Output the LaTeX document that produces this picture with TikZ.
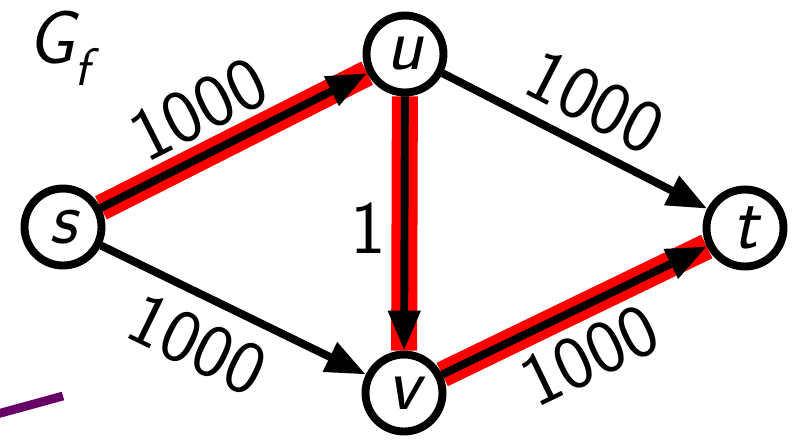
\documentclass[tikz,border=0pt]{standalone}
\usepackage{amsmath}
\usepackage{xcolor}
\usepackage{tikz}
\usetikzlibrary{arrows.meta, backgrounds}

\definecolor{plum}{HTML}{660066}

\begin{document}
\begin{tikzpicture}[
    x=0.02cm, y=-0.02cm,
    every node/.style={font=\sffamily\fontsize{43}{50}\selectfont},
    vertex/.style={circle, draw, fill=white, line width=4.5pt, minimum size=1.54cm, inner sep=0pt},
    augment/.style={red, line width=14.8pt},
    arc/.style={line width=4.5pt, -{Triangle[length=0.8cm,width=0.62cm]}},
    weight/.style={inner sep=0pt}
]

\useasboundingbox (0,0) rectangle (805,441);

% Vertices of the residual graph
\node[vertex] (s) at (63,227) {\itshape s};
\node[vertex] (u) at (405,54) {\itshape u};
\node[vertex] (v) at (404,393) {\itshape v};
\node[vertex] (t) at (745,228) {\itshape t};

\node[anchor=base west, inner sep=0pt] (title) at (27,63) {$\textit{G}_{\textit{f}}$};

\begin{scope}[on background layer]
% Augmenting path s-u-v-t
\draw[augment] (s) -- (u);
\draw[augment] (u) -- (v);
\draw[augment] (v) -- (t);

% Residual edges
\draw[arc] (s) -- node[weight, pos=0.44, sloped, above=0.28cm] (c-su) {1000} (u);
\draw[arc] (s) -- node[weight, pos=0.44, sloped, below=0.34cm] (c-sv) {1000} (v);
\draw[arc] (u) -- node[weight, pos=0.50, sloped, above=0.28cm] (c-ut) {1000} (t);
\draw[arc] (v) -- node[weight, pos=0.48, sloped, below=0.34cm] (c-vt) {1000} (t);
\draw[arc] (u) -- node[weight, pos=0.52, left=0.3cm] (c-uv) {1} (v);
\end{scope}

% Cut-off stroke at the left border
\draw[plum, line width=5pt] (-10,416) -- (63,396);

\end{tikzpicture}
\end{document}
